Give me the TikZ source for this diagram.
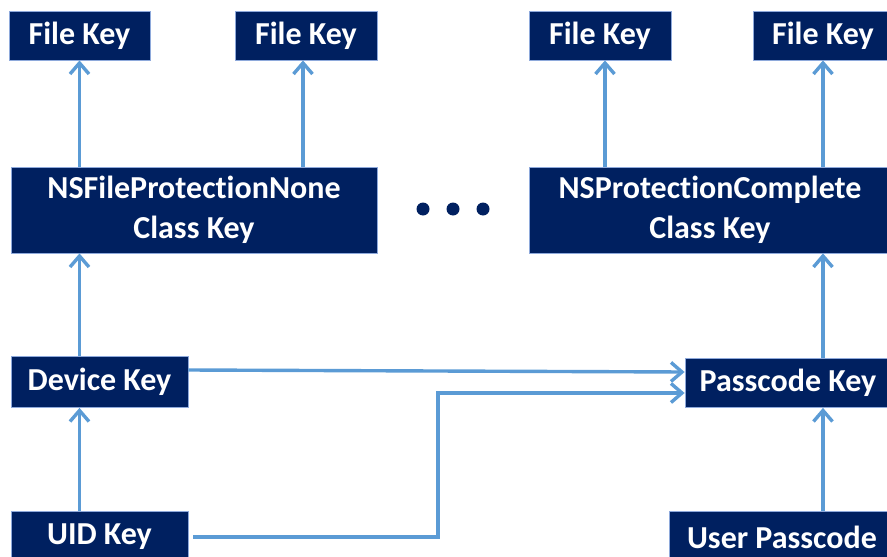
\documentclass[tikz,border=0pt]{standalone}
\usepackage{fontspec}
\setmainfont{Carlito}[Ligatures=NoCommon]
\usetikzlibrary{arrows.meta,calc}
\definecolor{navy}{HTML}{002060}
\definecolor{link}{HTML}{5B9BD5}
\definecolor{rim}{HTML}{8EA9DB}
\begin{document}
\begin{tikzpicture}[x=1pt,y=-1pt,
  keybox/.style={draw=rim,line width=0.8pt,fill=navy,text=white,
    font=\fontsize{32}{40}\selectfont\bfseries,align=center,
    inner sep=0pt,anchor=center},
  arr/.style={draw=link,line width=3.4pt,
    -{Straight Barb[length=11pt,width=19pt,line width=3.4pt]}}]
\useasboundingbox (0,0) rectangle (887,557);
% top row of file keys
\node[keybox,minimum width=141pt,minimum height=49pt] (fk1) at (79.5,35.5) {File Key};
\node[keybox,minimum width=142pt,minimum height=49pt] (fk2) at (306,35.5) {File Key};
\node[keybox,minimum width=142pt,minimum height=49pt] (fk3) at (600,35.5) {File Key};
\node[keybox,minimum width=140pt,minimum height=49pt] (fk4) at (823,35.5) {File Key};
% class keys
\node[keybox,minimum width=366pt,minimum height=86pt] (ncls) at (194,210) {NSFileProtectionNone\\Class Key};
\node[keybox,minimum width=362pt,minimum height=86pt] (ccls) at (710,210) {NSProtectionComplete\\Class Key};
% ellipsis between the class keys
\foreach \xx in {423,453,483}
  \fill[navy] (\xx,209) circle (6.5pt);
% lower keys
\node[keybox,minimum width=177pt,minimum height=51pt] (dev) at (99.5,382) {Device Key};
\node[keybox,minimum width=177pt,minimum height=51pt] (uid) at (99.5,537) {UID Key};
\node[keybox,minimum width=206pt,minimum height=49pt] (pk) at (788,383) {Passcode Key};
\node[keybox,minimum width=226pt,minimum height=51pt] (up) at (782,537) {User Passcode};
% derivation arrows
\draw[arr] (fk1.south |- ncls.north) -- (fk1.south);
\draw[arr] ([xshift=-3pt]fk2.south |- ncls.north) -- ([xshift=-3pt]fk2.south);
\draw[arr] ([xshift=5pt]fk3.south |- ccls.north) -- ([xshift=5pt]fk3.south);
\draw[arr] (fk4.south |- ccls.north) -- (fk4.south);
\draw[arr] (fk1.south |- dev.north) -- (fk1.south |- ncls.south);
\draw[arr] (fk1.south |- uid.north) -- (fk1.south |- dev.south);
\draw[arr] (fk4.south |- up.north) -- (fk4.south |- pk.south);
\draw[arr] (fk4.south |- pk.north) -- (fk4.south |- ccls.south);
\draw[arr] ([yshift=12pt]dev.east) -- ([yshift=11pt]pk.west);
\coordinate (bend) at (438,393);
\draw[arr] ([xshift=5pt]uid.east) -| (bend) -- (bend -| pk.west);
\end{tikzpicture}
\end{document}
